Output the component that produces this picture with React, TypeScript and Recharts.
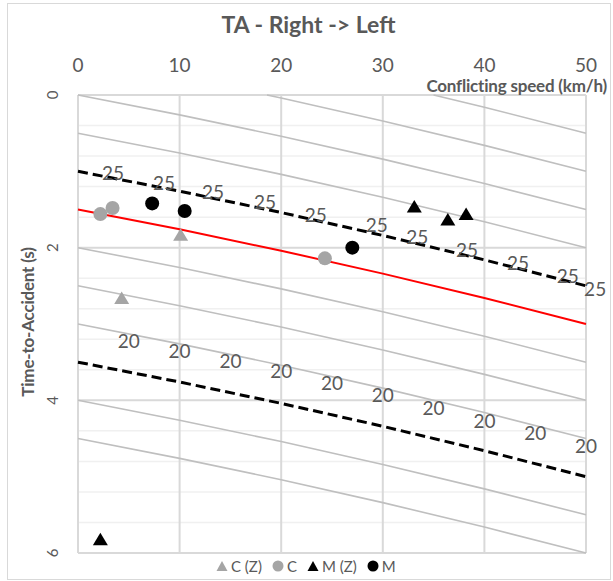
import React from 'react';
import {
  ComposedChart,
  Line,
  Scatter,
  XAxis,
  YAxis,
  CartesianGrid,
  ReferenceDot,
} from 'recharts';

const FONT = 'Lato, "Open Sans", sans-serif';
const TEXT = '#595959';

// Axes
const xTicks = [0, 10, 20, 30, 40, 50];
const yTicks = [0, 2, 4, 6];
const yMinor = [0.4, 0.8, 1.2, 1.6, 2.4, 2.8, 3.2, 3.6, 4.4, 4.8, 5.2, 5.6];

// Speeds at which the curves were read (km/h)
const speeds = [0, 10, 20, 30, 40, 50];

// Grey iso-lines (TA in s at each speed)
const isoM10 = [{ x: 35, y: 0 }, { x: 40, y: 0.16 }, { x: 50, y: 0.5 }];
const isoM05 = [{ x: 18.6, y: 0 }, { x: 20, y: 0.04 }, { x: 30, y: 0.34 }, { x: 40, y: 0.66 }, { x: 50, y: 1.0 }];
const iso00 = [0, 0.26, 0.54, 0.84, 1.16, 1.5];
const iso05 = [0.5, 0.76, 1.04, 1.34, 1.66, 2.0];
const iso20 = [2.0, 2.26, 2.54, 2.84, 3.16, 3.5];
const iso25 = [2.5, 2.76, 3.04, 3.34, 3.66, 4.0];
const iso30 = [3.0, 3.26, 3.54, 3.84, 4.16, 4.5];
const iso40 = [4.0, 4.26, 4.54, 4.84, 5.16, 5.5];
const iso45 = [4.5, 4.76, 5.04, 5.34, 5.66, 6.0];

// Highlighted curves
const redLine = [1.5, 1.76, 2.04, 2.34, 2.66, 3.0];
const dashedHigh = [1.0, 1.26, 1.54, 1.84, 2.16, 2.5];
const dashedLow = [3.5, 3.76, 4.04, 4.34, 4.66, 5.0];

// Curve labels
const label25X = [3.44, 8.46, 13.3, 18.4, 23.4, 29.4, 33.4, 38.3, 43.3, 48.2, 50.9];
const label25Y = [1.02, 1.14, 1.27, 1.4, 1.56, 1.69, 1.86, 2.02, 2.19, 2.36, 2.53];
const label20X = [5, 10, 15, 20, 25, 30, 35, 40, 45, 50];
const label20Y = [3.22, 3.35, 3.48, 3.61, 3.77, 3.93, 4.1, 4.26, 4.42, 4.59];

// Observations
const seriesCZ = [{ x: 4.3, y: 2.66 }, { x: 10.1, y: 1.83 }];
const seriesC = [{ x: 2.2, y: 1.56 }, { x: 3.4, y: 1.48 }, { x: 24.3, y: 2.14 }];
const seriesMZ = [{ x: 33.1, y: 1.46 }, { x: 36.4, y: 1.63 }, { x: 38.2, y: 1.56 }, { x: 2.2, y: 5.82 }];
const seriesM = [{ x: 7.3, y: 1.42 }, { x: 10.5, y: 1.52 }, { x: 27.0, y: 2.0 }];

const toPts = (vals: number[]) => vals.map((v, i) => ({ x: speeds[i], y: v }));

const greyLines = [isoM10, isoM05, toPts(iso00), toPts(iso05), toPts(iso20), toPts(iso25), toPts(iso30), toPts(iso40), toPts(iso45)];

const XTick = (props: any) => (
  <text x={props.x} y={64} textAnchor="middle" dominantBaseline="central" fill={TEXT} fontSize={19} fontFamily={FONT}>
    {props.payload.value}
  </text>
);

const YTick = (props: any) => (
  <text
    x={52}
    y={props.y}
    textAnchor="middle"
    dominantBaseline="central"
    fill={TEXT}
    fontSize={15}
    fontFamily={FONT}
    transform={`rotate(-90, 52, ${props.y})`}
  >
    {props.payload.value}
  </text>
);

const makeLabel = (txt: string) => (p: any) => (
  <text x={p.cx} y={p.cy} textAnchor="middle" dominantBaseline="central" fill={TEXT} fontSize={19} fontFamily={FONT}>
    {txt}
  </text>
);

const triShape = (color: string) => (p: any) => (
  <polygon points={`${p.cx},${p.cy - 6.5} ${p.cx + 7.5},${p.cy + 6} ${p.cx - 7.5},${p.cy + 6}`} fill={color} />
);
const dotShape = (color: string) => (p: any) => <circle cx={p.cx} cy={p.cy} r={7} fill={color} />;

const LegendIcon = ({ kind, color }: { kind: string; color: string }) => (
  <svg width={12} height={12} style={{ marginRight: 3, verticalAlign: 'middle' }}>
    {kind === 'tri' ? <polygon points="6,1 11.5,11 0.5,11" fill={color} /> : <circle cx={6} cy={6} r={5.5} fill={color} />}
  </svg>
);

const legendItems = [
  { name: 'C (Z)', kind: 'tri', color: '#a5a5a5' },
  { name: 'C', kind: 'circle', color: '#a5a5a5' },
  { name: 'M (Z)', kind: 'tri', color: '#000000' },
  { name: 'M', kind: 'circle', color: '#000000' },
];

export default function App() {
  return (
    <div style={{ position: 'absolute', left: 0, top: 0, width: 613, height: 581, background: '#fff', fontFamily: FONT }}>
      <div style={{ position: 'absolute', left: 7, top: 3, width: 602, height: 575, border: '1px solid #d9d9d9' }} />
      <div style={{ position: 'absolute', left: 0, top: 0 }}>
        <ComposedChart width={613} height={581} margin={{ top: 55, right: 27, bottom: 28, left: 28 }}>
          <CartesianGrid horizontalValues={yMinor} vertical={false} stroke="#f0f0f0" strokeWidth={1.5} />
          <CartesianGrid horizontalValues={yTicks} verticalValues={xTicks} stroke="#d9d9d9" strokeWidth={2} />
          <XAxis
            xAxisId={0}
            dataKey="x"
            type="number"
            orientation="top"
            domain={[0, 50]}
            ticks={xTicks}
            interval={0}
            height={40}
            tickLine={false}
            axisLine={false}
            tick={<XTick />}
          />
          <YAxis
            yAxisId={0}
            dataKey="y"
            type="number"
            domain={[0, 6]}
            reversed
            ticks={yTicks}
            interval={0}
            width={50}
            tickLine={false}
            axisLine={false}
            tick={<YTick />}
          />
          {greyLines.map((d, i) => (
            <Line key={'g' + i} data={d} dataKey="y" stroke="#bfbfbf" strokeWidth={1.6} dot={false} isAnimationActive={false} legendType="none" />
          ))}
          <Line data={toPts(redLine)} dataKey="y" stroke="#ff0000" strokeWidth={2} dot={false} isAnimationActive={false} />
          <Line data={toPts(dashedHigh)} dataKey="y" stroke="#000000" strokeWidth={3} strokeDasharray="10 5" dot={false} isAnimationActive={false} />
          <Line data={toPts(dashedLow)} dataKey="y" stroke="#000000" strokeWidth={3} strokeDasharray="10 5" dot={false} isAnimationActive={false} />
          {label25X.map((x, i) => (
            <ReferenceDot key={'l25' + i} x={x} y={label25Y[i]} r={1} ifOverflow="visible" shape={makeLabel('25')} />
          ))}
          {label20X.map((x, i) => (
            <ReferenceDot key={'l20' + i} x={x} y={label20Y[i]} r={1} ifOverflow="visible" shape={makeLabel('20')} />
          ))}
          <Scatter name="C (Z)" data={seriesCZ} fill="#a5a5a5" shape={triShape('#a5a5a5')} isAnimationActive={false} />
          <Scatter name="C" data={seriesC} fill="#a5a5a5" shape={dotShape('#a5a5a5')} isAnimationActive={false} />
          <Scatter name="M (Z)" data={seriesMZ} fill="#000000" shape={triShape('#000000')} isAnimationActive={false} />
          <Scatter name="M" data={seriesM} fill="#000000" shape={dotShape('#000000')} isAnimationActive={false} />
        </ComposedChart>
      </div>
      <div style={{ position: 'absolute', left: 0, width: 613, top: 10, textAlign: 'center', fontSize: 23, fontWeight: 700, color: TEXT, lineHeight: '28px' }}>
        <span style={{ position: 'relative', left: 2 }}>TA - Right -&gt; Left</span>
      </div>
      <div style={{ position: 'absolute', right: 6, top: 77, fontSize: 17, fontWeight: 700, color: TEXT, lineHeight: '17px', whiteSpace: 'nowrap', letterSpacing: -0.2 }}>
        Conflicting speed (km/h)
      </div>
      <div
        style={{
          position: 'absolute',
          left: 28,
          top: 322,
          transform: 'translate(-50%, -50%) rotate(-90deg)',
          fontSize: 17,
          fontWeight: 700,
          color: TEXT,
          whiteSpace: 'nowrap',
          lineHeight: '20px',
          letterSpacing: -0.2,
        }}
      >
        Time-to-Accident (s)
      </div>
      <div style={{ position: 'absolute', left: 216, top: 555, fontSize: 15, color: TEXT, whiteSpace: 'nowrap', lineHeight: '18px' }}>
        {legendItems.map((it) => (
          <span key={it.name} style={{ marginRight: 10 }}>
            <LegendIcon kind={it.kind} color={it.color} />
            <span style={{ verticalAlign: 'middle' }}>{it.name}</span>
          </span>
        ))}
      </div>
    </div>
  );
}
